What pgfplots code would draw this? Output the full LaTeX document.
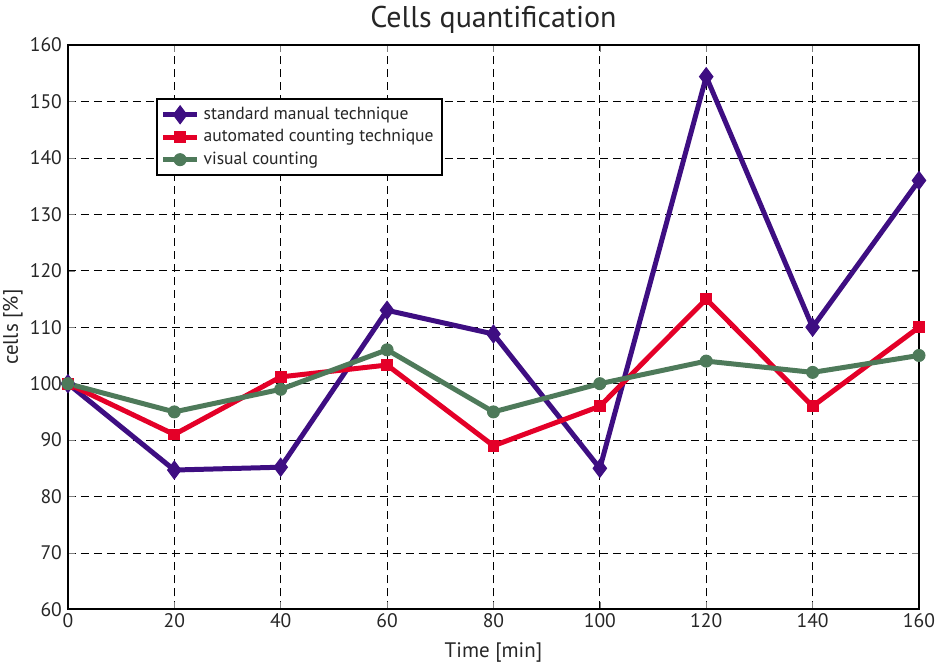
\documentclass[border=0pt]{standalone}
\usepackage{pgfplots}
\pgfplotsset{compat=1.18}
\usepackage{fontspec}
\setmainfont{PT Sans}
\definecolor{cpurple}{RGB}{62,14,130}
\definecolor{cred}{RGB}{228,0,40}
\definecolor{cgreen}{RGB}{78,122,90}
\begin{document}
\begin{tikzpicture}
\begin{axis}[
  scale only axis,
  width=426pt, height=282.5pt,
  xmin=0, xmax=160, ymin=60, ymax=160,
  xtick={0,20,...,160}, ytick={60,70,...,160},
  /pgf/number format/assume math mode=true,
  tick label style={font=\fontsize{9.8}{10}\selectfont, text=black!85},
  xticklabel style={yshift=1.5pt, inner xsep=0.5pt},
  yticklabel style={xshift=0.5pt},
  tick align=inside,
  major tick length=3.5pt,
  grid=major,
  major grid style={dashed, black, line width=0.4pt, dash pattern=on 4pt off 2.5pt},
  axis line style={line width=1pt},
  title={Cells quantification},
  title style={font=\fontsize{15}{17}\selectfont, text=black!85, yshift=-4pt},
  xlabel={Time [min]},
  ylabel={cells [\%]},
  label style={font=\fontsize{10.5}{12}\selectfont, text=black!85},
  xlabel style={yshift=-0.5pt},
  ylabel style={yshift=-1.5pt, inner ysep=1.5pt},
  legend style={at={(0.103,0.906)}, anchor=north west, draw=black, line width=1pt,
    font=\fontsize{8.8}{10}\selectfont, text=black!85, inner sep=2pt, row sep=-0.5pt,
    cells={anchor=west}},
  legend cell align=left,
  every axis plot/.append style={line width=2.5pt},
]
\addplot[color=cpurple, mark=diamond*, mark size=4.5pt, mark options={solid, line width=0.5pt}]
  coordinates {(0,100) (20,84.7) (40,85.2) (60,113) (80,108.8) (100,85) (120,154.4) (140,110) (160,136)};
\addlegendentry{standard manual technique}
\addplot[color=cred, mark=square*, mark size=2.7pt, mark options={solid, line width=0.5pt}]
  coordinates {(0,100) (20,91) (40,101.2) (60,103.3) (80,89) (100,96) (120,115) (140,96) (160,110)};
\addlegendentry{automated counting technique}
\addplot[color=cgreen, mark=*, mark size=3pt, mark options={solid, line width=0.5pt}]
  coordinates {(0,100) (20,95) (40,99) (60,106) (80,95) (100,100) (120,104) (140,102) (160,105)};
\addlegendentry{visual counting}
\end{axis}
\end{tikzpicture}
\end{document}
